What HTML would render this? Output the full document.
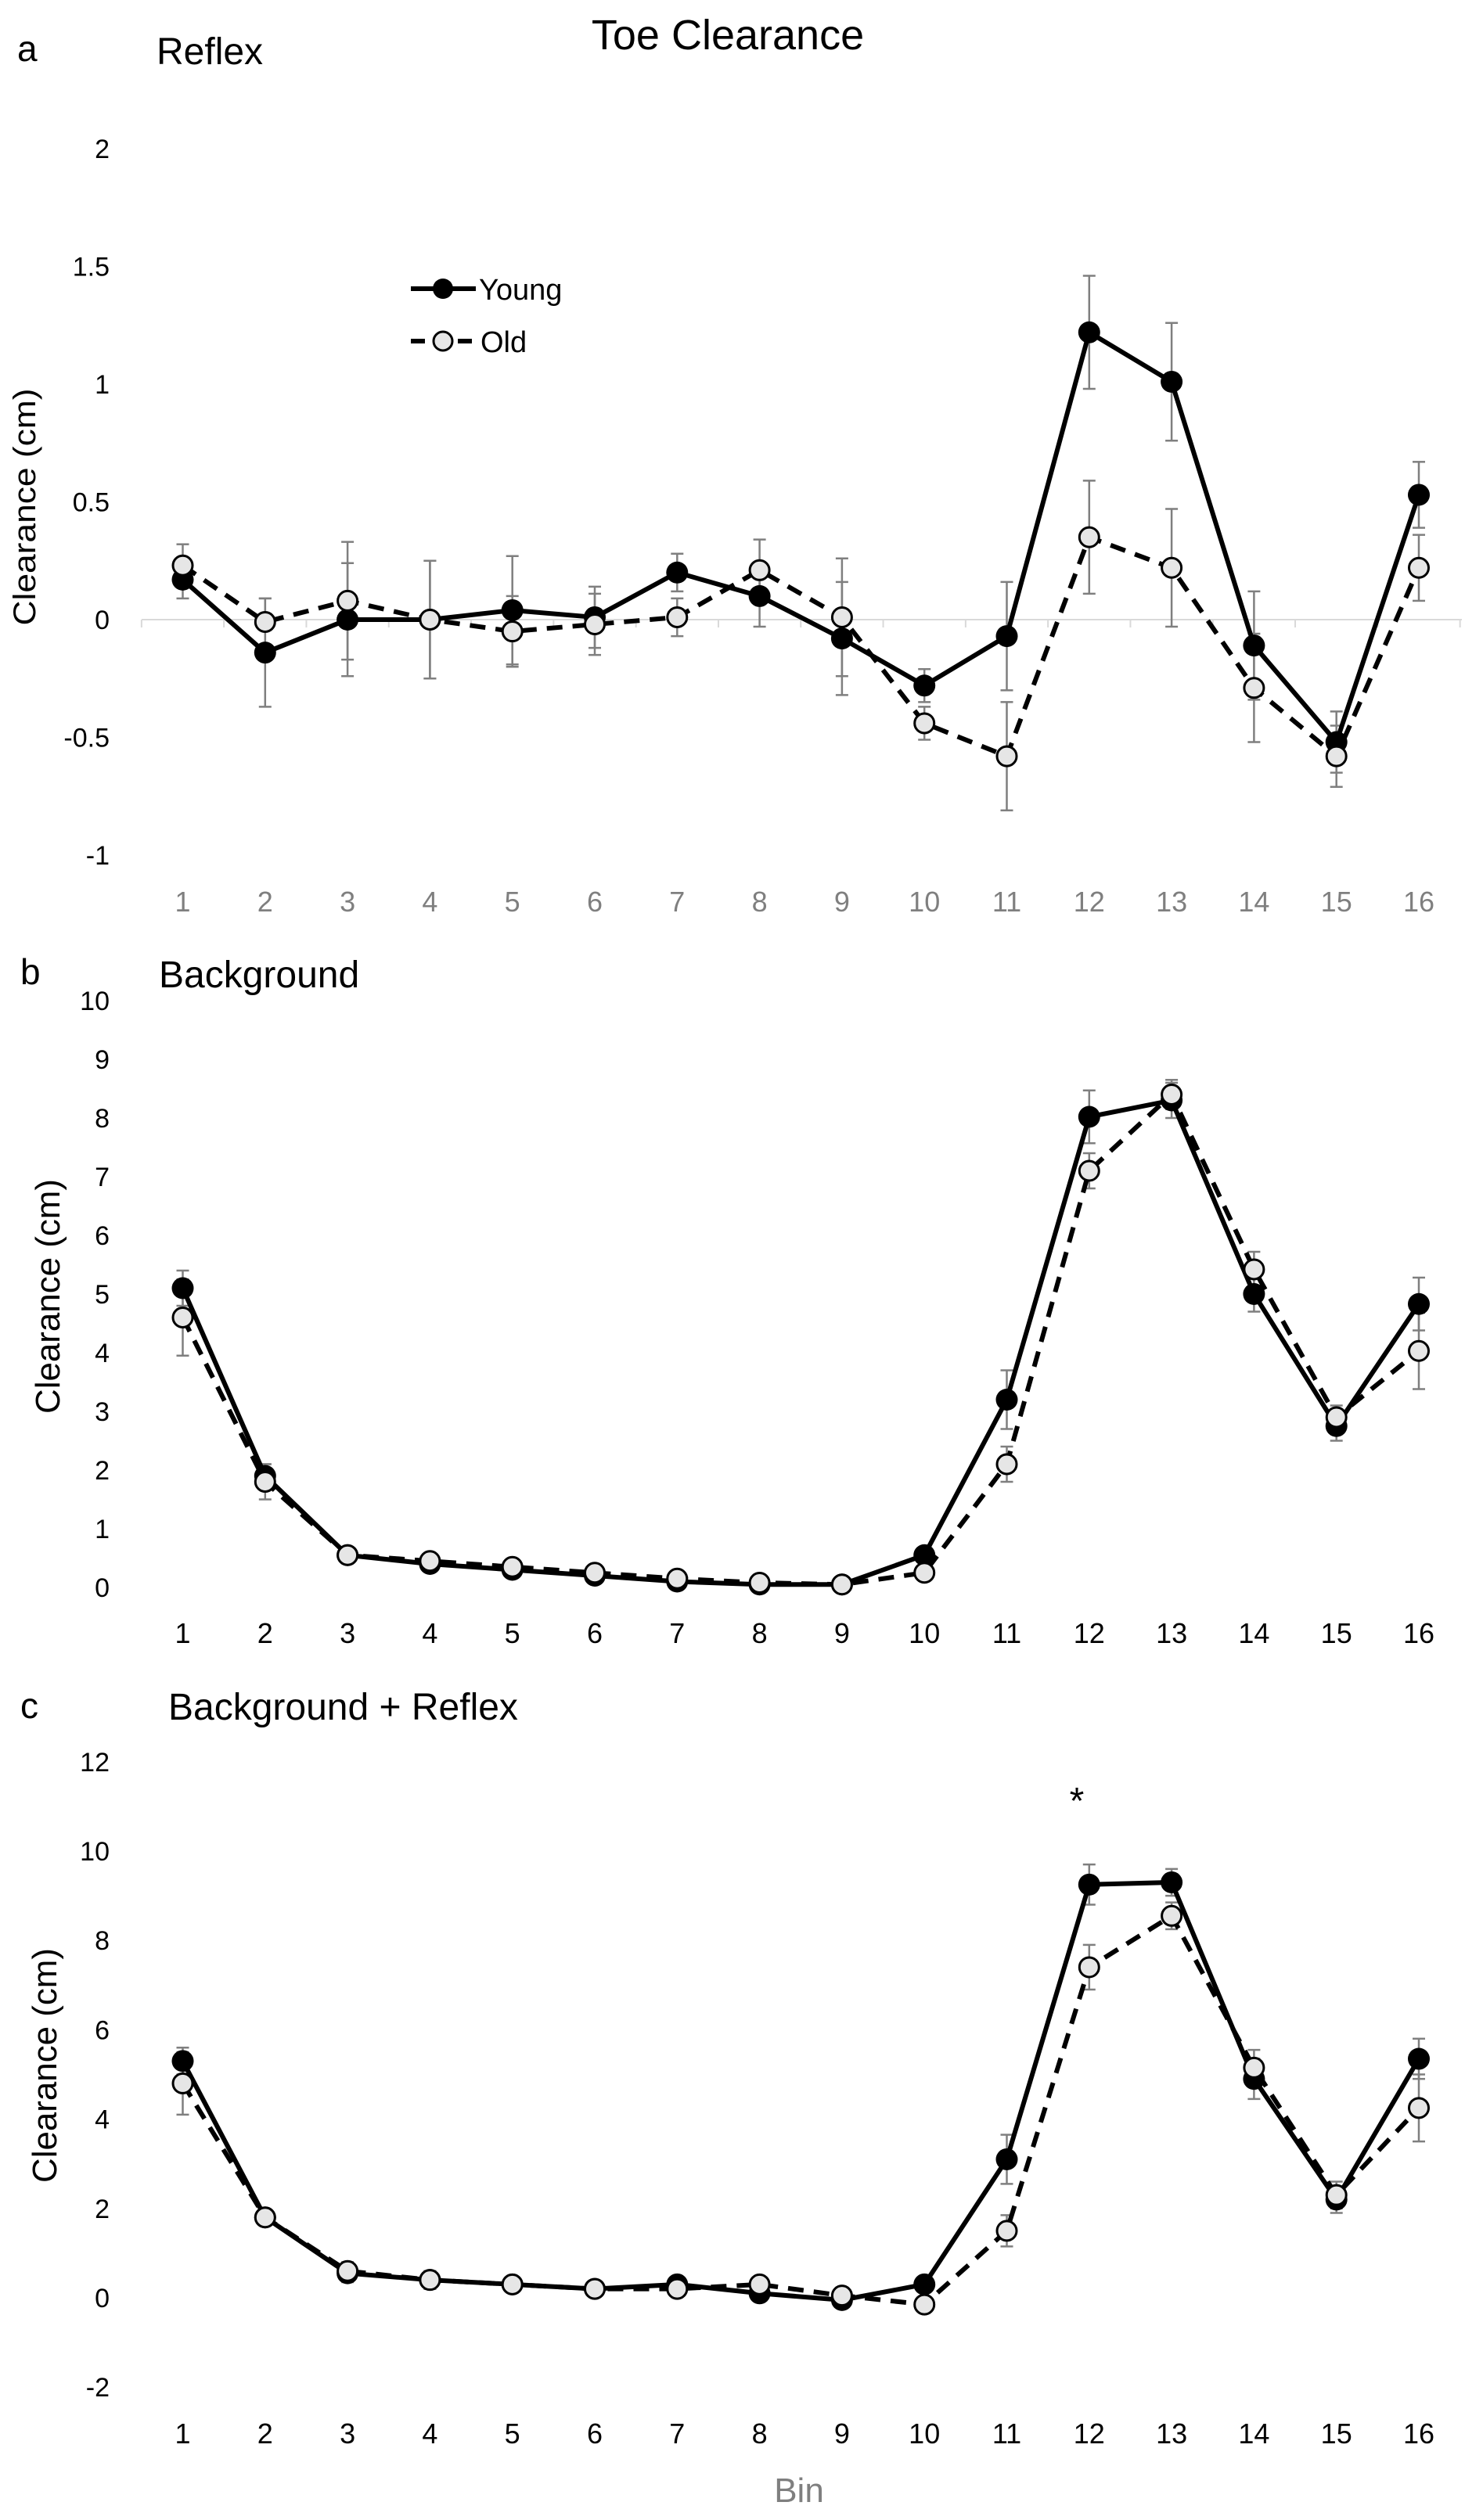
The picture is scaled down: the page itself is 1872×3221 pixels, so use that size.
<!DOCTYPE html>
<html><head><meta charset="utf-8"><style>
html,body{margin:0;padding:0;background:#fff;}
svg{display:block;}
text{font-family:"Liberation Sans",sans-serif;}
</style></head><body>
<svg id="fig" width="1872" height="3221" viewBox="0 0 1872 3221" xmlns="http://www.w3.org/2000/svg">
<rect width="1872" height="3221" fill="#fff"/>
<text x="930" y="63" font-size="54" text-anchor="middle">Toe Clearance</text>
<text x="22" y="78" font-size="46">a</text>
<text x="200" y="82" font-size="48">Reflex</text>
<text x="26" y="1258" font-size="46">b</text>
<text x="203" y="1262" font-size="48">Background</text>
<text x="26" y="2196" font-size="46">c</text>
<text x="215" y="2198" font-size="48">Background + Reflex</text>
<text x="1021" y="3198" font-size="44" fill="#7f7f7f" text-anchor="middle">Bin</text>
<text x="1376" y="2318" font-size="48" text-anchor="middle">*</text>
<g>
  <line x1="525" y1="369" x2="608" y2="369" stroke="#000" stroke-width="6"/>
  <circle cx="566" cy="369" r="13" fill="#000"/>
  <text x="612" y="383" font-size="38">Young</text>
  <line x1="525" y1="436" x2="608" y2="436" stroke="#000" stroke-width="6" stroke-dasharray="18,12"/>
  <circle cx="566" cy="436" r="12" fill="#e6e6e6" stroke="#000" stroke-width="3"/>
  <text x="614" y="450" font-size="38">Old</text>
</g>
</svg>
<script>
const bins = [1,2,3,4,5,6,7,8,9,10,11,12,13,14,15,16];
// Panel a: Reflex
const aYoung = [0.17,-0.14,0,0,0.04,0.01,0.2,0.1,-0.08,-0.28,-0.07,1.22,1.01,-0.11,-0.52,0.53];
const aOld = [0.23,-0.01,0.08,0,-0.05,-0.02,0.01,0.21,0.01,-0.44,-0.58,0.35,0.22,-0.29,-0.58,0.22];
const aYoungErr = [0.08,0.23,0.24,0.25,0.23,0.13,0.08,0.13,0.24,0.07,0.23,0.24,0.25,0.23,0.13,0.14];
const aOldErr = [0.09,0.1,0.25,0.25,0.15,0.13,0.08,0.13,0.25,0.07,0.23,0.24,0.25,0.23,0.13,0.14];
const aTicks = [-1,-0.5,0,0.5,1,1.5,2];
// Panel b: Background
const bYoung = [5.1,1.9,0.55,0.4,0.3,0.2,0.1,0.05,0.05,0.55,3.2,8.02,8.3,5.0,2.75,4.83];
const bOld = [4.6,1.8,0.55,0.45,0.35,0.25,0.15,0.08,0.05,0.25,2.1,7.1,8.4,5.42,2.9,4.03];
const bYoungErr = [0.3,0.2,0.1,0.1,0.1,0.05,0.05,0.05,0.05,0.1,0.5,0.45,0.3,0.3,0.25,0.45];
const bOldErr = [0.65,0.3,0.1,0.1,0.1,0.05,0.05,0.05,0.05,0.1,0.3,0.3,0.25,0.3,0.2,0.65];
const bTicks = [0,1,2,3,4,5,6,7,8,9,10];
// Panel c: Background + Reflex
const cYoung = [5.3,1.8,0.55,0.4,0.3,0.2,0.3,0.1,-0.05,0.3,3.1,9.25,9.3,4.9,2.2,5.35];
const cOld = [4.8,1.8,0.6,0.4,0.3,0.2,0.2,0.3,0.05,-0.15,1.5,7.4,8.55,5.15,2.3,4.25];
const cYoungErr = [0.3,0.1,0.2,0.2,0.1,0.1,0.1,0.1,0.1,0.1,0.55,0.45,0.3,0.45,0.3,0.45];
const cOldErr = [0.7,0.1,0.2,0.2,0.1,0.1,0.1,0.1,0.1,0.1,0.35,0.5,0.3,0.4,0.3,0.75];
const cTicks = [-2,0,2,4,6,8,10,12];

const NS = "http://www.w3.org/2000/svg";
const svg = document.getElementById('fig');
function mk(tag, attrs, parent){
  const e = document.createElementNS(NS, tag);
  for (const k in attrs) e.setAttribute(k, attrs[k]);
  (parent||svg).appendChild(e);
  return e;
}
const xScale = b => 233.5 + (b-1)*105.3;

function panel(id, cfg){
  const y = v => cfg.y0 - v*cfg.ppu;
  const g = mk('g', {});
  
  
  // y title
  const yt = mk('text', {x:0, y:0, 'font-size':cfg.titleSize, 'text-anchor':'middle',
    transform:'translate('+cfg.titleX+','+cfg.titleY+') rotate(-90)', textLength:cfg.titleLen, lengthAdjust:'spacingAndGlyphs'}, g);
  yt.textContent = 'Clearance (cm)';
  
  
  // y ticks
  cfg.ticks.forEach(t => {
    const tx = mk('text', {x:140, y:y(t)+12, 'font-size':34, 'text-anchor':'end'}, g);
    tx.textContent = String(t);
    
    
  });
  // axis line (panel a)
  if (cfg.axis){
    const ax = mk('line', {x1:181, y1:y(0), x2:1868, y2:y(0), stroke:'#d9d9d9', 'stroke-width':2}, g);
    
    
    for (let i=0;i<=16;i++){
      const xx = xScale(0.5+i);
      const tk = mk('line', {x1:xx, y1:y(0), x2:xx, y2:y(0)+10, stroke:'#d9d9d9', 'stroke-width':2}, g);
      
      
    }
  }
  // x labels
  bins.forEach(b => {
    const tx = mk('text', {x:xScale(b), y:cfg.xLabY, 'font-size':36, 'text-anchor':'middle', fill:cfg.xCol}, g);
    tx.textContent = String(b);
    
    
  });
  // error bars
  function errs(vals, err, name){
    vals.forEach((v,i) => {
      const xx = xScale(bins[i]);
      const eg = mk('g', {stroke:'#7f7f7f', 'stroke-width':2.5}, g);
      
      
      mk('line', {x1:xx, y1:y(v-err[i]), x2:xx, y2:y(v+err[i])}, eg);
      mk('line', {x1:xx-8, y1:y(v-err[i]), x2:xx+8, y2:y(v-err[i])}, eg);
      mk('line', {x1:xx-8, y1:y(v+err[i]), x2:xx+8, y2:y(v+err[i])}, eg);
    });
  }
  errs(cfg.old, cfg.oldErr, id+'-old-error-bar');
  errs(cfg.young, cfg.youngErr, id+'-young-error-bar');
  // lines
  const ptsO = cfg.old.map((v,i)=>xScale(bins[i])+','+y(v)).join(' ');
  const lo = mk('polyline', {points:ptsO, fill:'none', stroke:'#000', 'stroke-width':6, 'stroke-dasharray':'20,13'}, g);
  
  
  const ptsY = cfg.young.map((v,i)=>xScale(bins[i])+','+y(v)).join(' ');
  const ly = mk('polyline', {points:ptsY, fill:'none', stroke:'#000', 'stroke-width':6}, g);
  
  
  cfg.young.forEach((v,i) => {
    const c = mk('circle', {cx:xScale(bins[i]), cy:y(v), r:14, fill:'#000'}, g);
    
    
  });
  cfg.old.forEach((v,i) => {
    const c = mk('circle', {cx:xScale(bins[i]), cy:y(v), r:12.5, fill:'#e6e6e6', stroke:'#000', 'stroke-width':3}, g);
    
    
  });
}

panel('panel-a', {y0:792, ppu:301, ticks:aTicks, young:aYoung, old:aOld, youngErr:aYoungErr, oldErr:aOldErr,
  axis:true, xLabY:1165, xCol:'#7f7f7f', titleX:45, titleY:648, titleSize:40, titleLen:303});
panel('panel-b', {y0:2029, ppu:75, ticks:bTicks, young:bYoung, old:bOld, youngErr:bYoungErr, oldErr:bOldErr,
  axis:false, xLabY:2100, xCol:'#000', titleX:76, titleY:1657, titleSize:44, titleLen:300});
panel('panel-c', {y0:2937, ppu:57.1, ticks:cTicks, young:cYoung, old:cOld, youngErr:cYoungErr, oldErr:cOldErr,
  axis:false, xLabY:3123, xCol:'#000', titleX:72, titleY:2640, titleSize:44, titleLen:300});
</script>
</body></html>
